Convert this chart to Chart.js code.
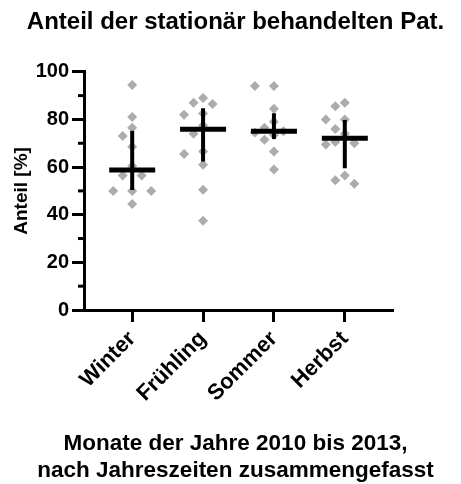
<!DOCTYPE html>
<html>
<head>
<meta charset="utf-8">
<script src="https://cdn.jsdelivr.net/npm/chart.js@4.4.0/dist/chart.umd.min.js"></script>
<style>
  html, body { margin: 0; padding: 0; background: #fff; }
</style>
</head>
<body>
<canvas id="chart" width="461" height="484"></canvas>
<script>
const seasons = ["Winter", "Frühling", "Sommer", "Herbst"];

// monthly shares per season
const winter = [94.5, 81, 76.5, 73, 68.5, 60.5, 56.5, 56.5, 50, 50, 50, 44.5];
const fruehling = [89, 87, 86.5, 82.5, 82, 77.5, 74, 66.5, 65.5, 61, 50.5, 37.5];
const sommer = [94, 94, 84.5, 79, 76.5, 75, 74.5, 73.5, 71.5, 66.5, 59];
const herbst = [87, 85.5, 80, 80, 76, 74, 70.5, 70, 69.5, 56.5, 54.5, 53];

// median with interquartile range
const medians = [58.8, 75.9, 75.0, 72.1];
const lowerQuartile = [50.4, 62.3, 71.8, 59.5];
const upperQuartile = [75.2, 84.7, 82.6, 79.8];

const seriesList = [winter, fruehling, sommer, herbst];

Chart.defaults.font.family = "'Liberation Sans', Arial, sans-serif";
Chart.defaults.font.weight = "bold";
Chart.defaults.color = "#000";

// spread points sideways when they would overlap (beeswarm)
function swarm(values, pxY, pxX) {
  const order = values.map((v, i) => i).sort((a, b) => values[b] - values[a]);
  const placed = [];
  const offs = new Array(values.length).fill(0);
  const step = 9.5;
  const candidates = [0, -step, step, -2 * step, 2 * step];
  order.forEach(i => {
    const py = values[i] * pxY;
    let best = 0, bestDist = -1;
    for (const dx of candidates) {
      const d = placed.reduce((m, p) => Math.min(m, Math.hypot(p.dx - dx, p.py - py)), Infinity);
      if (d >= 10) { best = dx; break; }
      if (d > bestDist) { bestDist = d; best = dx; }
    }
    offs[i] = best;
    placed.push({ dx: best, py });
  });
  return offs.map(o => o / pxX);
}

const summaryLines = {
  id: "summaryLines",
  afterDatasetsDraw(chart) {
    const { ctx, chartArea, scales: { x, y } } = chart;
    ctx.save();
    ctx.strokeStyle = "#000";
    ctx.lineCap = "butt";
    seasons.forEach((s, i) => {
      const cx = x.getPixelForValue(i);
      ctx.lineWidth = 4;
      ctx.beginPath();
      ctx.moveTo(cx, y.getPixelForValue(lowerQuartile[i]));
      ctx.lineTo(cx, y.getPixelForValue(upperQuartile[i]));
      ctx.stroke();
      const my = y.getPixelForValue(medians[i]);
      ctx.lineWidth = 5;
      ctx.beginPath();
      ctx.moveTo(cx - 23, my);
      ctx.lineTo(cx + 23, my);
      ctx.stroke();
    });
    // short minor ticks between the labelled ones
    const t = y.ticks;
    ctx.lineWidth = 3;
    for (let k = 0; k < t.length - 1; k++) {
      const py = y.getPixelForValue((t[k].value + t[k + 1].value) / 2);
      ctx.beginPath();
      ctx.moveTo(chartArea.left - 6, py);
      ctx.lineTo(chartArea.left, py);
      ctx.stroke();
    }
    ctx.restore();
  }
};

const axisGrid = {
  display: true,
  drawOnChartArea: false,
  drawTicks: true,
  tickLength: 12,
  tickWidth: 3,
  tickColor: "#000"
};
const axisBorder = { display: true, color: "#000", width: 3 };

const ctx = document.getElementById("chart").getContext("2d");
const chart = new Chart(ctx, {
  type: "scatter",
  data: {
    datasets: [{
      data: [],
      pointStyle: "rectRot",
      pointRadius: 5,
      pointBorderWidth: 0,
      backgroundColor: "#acacac",
      borderColor: "#acacac"
    }]
  },
  options: {
    responsive: false,
    animation: false,
    layout: { padding: { left: 10, right: 0, top: 0, bottom: 0 } },
    plugins: {
      legend: { display: false },
      tooltip: { enabled: false },
      title: {
        display: true,
        text: "Anteil der stationär behandelten Pat.",
        color: "#000",
        font: { size: 24, weight: "bold" },
        padding: { top: 8, bottom: 35 }
      },
      subtitle: {
        display: true,
        position: "bottom",
        text: ["Monate der Jahre 2010 bis 2013,", "nach Jahreszeiten zusammengefasst"],
        color: "#000",
        font: { size: 22.5, weight: "bold", lineHeight: 1.2 },
        padding: { top: 0, bottom: 0 }
      }
    },
    scales: {
      x: {
        type: "linear",
        min: -0.68,
        max: 3.68,
        afterBuildTicks: s => { s.ticks = seasons.map((_, i) => ({ value: i })); },
        afterFit: s => { s.height = 120; },
        ticks: {
          callback: v => seasons[v],
          autoSkip: false,
          maxRotation: 45,
          minRotation: 45,
          padding: 4,
          font: { size: 22, weight: "bold" }
        },
        grid: axisGrid,
        border: axisBorder
      },
      y: {
        min: 0,
        max: 100,
        afterFit: s => { s.width = 74; },
        ticks: { stepSize: 20, padding: 3, font: { size: 20, weight: "bold" } },
        grid: axisGrid,
        border: axisBorder,
        title: {
          display: true,
          text: "Anteil [%]",
          font: { size: 19, weight: "bold" },
          padding: { top: 0, bottom: 0 }
        }
      },
      // empty space on the right of the plot
      spacer: {
        position: "right",
        afterFit: s => { s.width = 68; },
        ticks: { display: false },
        grid: { display: false, drawTicks: false },
        border: { display: false }
      }
    }
  },
  plugins: [summaryLines]
});

const pxY = Math.abs(chart.scales.y.getPixelForValue(0) - chart.scales.y.getPixelForValue(1));
const pxX = chart.scales.x.getPixelForValue(1) - chart.scales.x.getPixelForValue(0);
seriesList.forEach((vals, i) => {
  const offs = swarm(vals, pxY, pxX);
  vals.forEach((v, j) => chart.data.datasets[0].data.push({ x: i + offs[j], y: v }));
});
chart.update("none");
</script>
</body>
</html>
